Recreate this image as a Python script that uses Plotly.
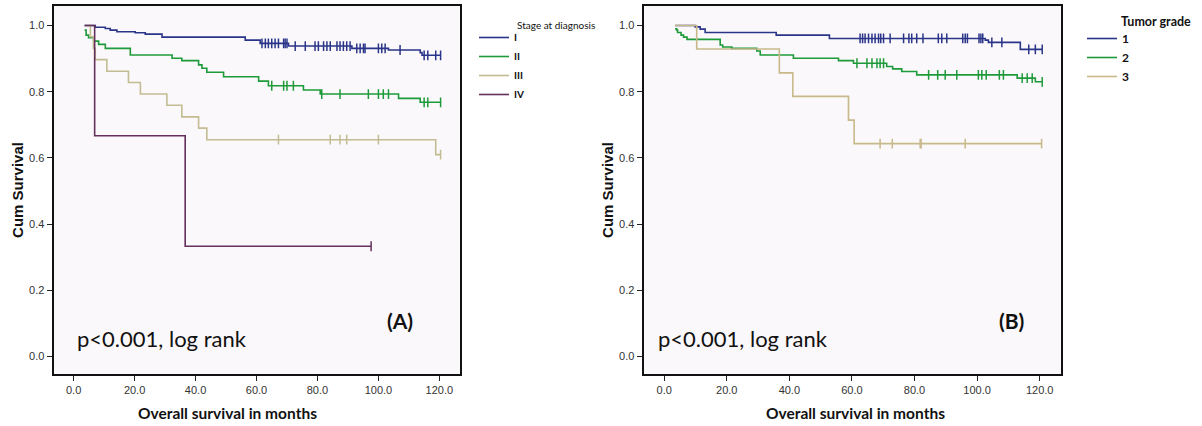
import numpy as np
import plotly.graph_objects as go

# ---------------- data ----------------
# Panel A : Stage at diagnosis
stage_names = ["I", "II", "III", "IV"]
stage1_t = [3.6, 7.1, 10.4, 12.0, 14.2, 20.2, 23.5, 29.0, 56.3, 61.2, 70.5, 91.3, 103.3, 113.7, 114.3]
stage1_s = [1.0, 0.995, 0.991, 0.986, 0.981, 0.978, 0.974, 0.965, 0.956, 0.946, 0.938, 0.931, 0.926, 0.918, 0.910]
stage1_c = [61.8, 62.9, 63.9, 65.0, 66.1, 67.2, 68.9, 69.4, 70.0, 72.7, 76.0, 79.2, 80.3, 82.0, 83.1,
            84.2, 86.4, 87.4, 88.5, 89.6, 90.7, 92.9, 94.0, 95.1, 95.6, 100.0, 101.1, 102.2, 107.1,
            115.0, 116.2, 118.8, 120.4]
stage2_t = [3.6, 4.1, 4.9, 6.6, 8.2, 10.4, 18.6, 32.3, 35.5, 41.0, 42.1, 43.7, 49.2, 60.7, 63.9, 75.4,
            80.9, 106.6, 113.7]
stage2_s = [0.986, 0.971, 0.963, 0.953, 0.943, 0.931, 0.911, 0.901, 0.894, 0.881, 0.871, 0.859, 0.845,
            0.832, 0.818, 0.805, 0.793, 0.780, 0.768]
stage2_c = [65.0, 68.9, 70.0, 72.1, 81.4, 87.4, 96.7, 100.0, 101.6, 103.3, 115.0, 116.2, 120.4]
stage3_t = [3.6, 5.5, 6.5, 7.1, 10.9, 18.0, 21.9, 30.6, 35.5, 41.0, 43.7, 118.8]
stage3_s = [1.0, 0.966, 0.931, 0.897, 0.862, 0.828, 0.793, 0.759, 0.724, 0.690, 0.655, 0.610]
stage3_c = [67.2, 84.2, 87.4, 89.6, 100.0, 120.4]
stage4_t = [3.6, 6.9, 36.6]
stage4_s = [1.0, 0.667, 0.333]
stage4_c = [97.6]

# Panel B : Tumor grade
grade_names = ["1", "2", "3"]
grade1_t = [3.5, 9.9, 11.5, 13.1, 35.8, 52.8, 102.6, 103.6, 113.8]
grade1_s = [1.0, 0.996, 0.989, 0.979, 0.971, 0.961, 0.956, 0.949, 0.928]
grade1_c = [62.6, 63.4, 64.2, 65.3, 66.4, 67.4, 68.5, 69.2, 70.1, 72.2, 76.5, 78.2, 79.1, 80.7, 82.7,
            87.6, 88.7, 90.3, 95.4, 96.2, 96.9, 100.6, 101.2, 101.8, 104.7, 107.9, 116.5, 118.6, 120.8]
grade2_t = [3.5, 4.0, 4.3, 5.4, 6.2, 7.3, 17.9, 18.7, 21.6, 29.6, 30.7, 41.3, 55.7, 60.5, 71.1, 73.0,
            75.9, 80.7, 112.8, 118.6]
grade2_s = [0.990, 0.986, 0.979, 0.971, 0.965, 0.958, 0.941, 0.935, 0.931, 0.923, 0.911, 0.901, 0.894,
            0.886, 0.876, 0.869, 0.861, 0.851, 0.841, 0.830]
grade2_c = [61.6, 64.8, 66.4, 68.0, 69.0, 70.1, 84.5, 87.4, 89.8, 93.5, 100.4, 101.5, 102.9, 107.1,
            108.4, 114.4, 116.0, 117.6, 120.8]
grade3_t = [3.5, 10.4, 36.8, 41.1, 58.9, 60.7]
grade3_s = [1.0, 0.929, 0.857, 0.786, 0.714, 0.643]
grade3_c = [69.0, 72.9, 81.8, 82.1, 96.2, 120.6]

x_ticks = [0, 20, 40, 60, 80, 100, 120]
x_ticklabels = ["0.0", "20.0", "40.0", "60.0", "80.0", "100.0", "120.0"]
y_ticks = [0.0, 0.2, 0.4, 0.6, 0.8, 1.0]
y_ticklabels = ["0.0", "0.2", "0.4", "0.6", "0.8", "1.0"]

# ---------------- styling ----------------
BLUE = "#2a3589"
GREEN = "#1f9a3a"
TAN = "#c3bc92"
PURPLE = "#66305e"
TAN_B = "#c8b98a"

W, H = 1202, 426


def px_x(p):
    return p / W


def px_y(p):
    return 1 - p / H


fig = go.Figure()


def add_curve(t, s, c, color, name, xa, ya, legend):
    t = np.asarray(t, float)
    s = np.asarray(s, float)
    c = np.asarray(c, float)
    end = max(t.max(), c.max() if c.size else t.max())
    xs = np.append(t, end)
    ys = np.append(s, s[-1])
    fig.add_trace(go.Scatter(
        x=xs, y=ys, mode="lines", line=dict(color=color, width=1.6, shape="hv"),
        name=name, xaxis=xa, yaxis=ya, legend=legend, hoverinfo="skip"))
    if c.size:
        idx = np.searchsorted(t, c, side="right") - 1
        cy = s[np.clip(idx, 0, len(s) - 1)]
        fig.add_trace(go.Scatter(
            x=c, y=cy, mode="markers", showlegend=False, xaxis=xa, yaxis=ya,
            marker=dict(symbol="line-ns", size=7, line=dict(color=color, width=1.5)),
            hoverinfo="skip"))


add_curve(stage1_t, stage1_s, stage1_c, BLUE, stage_names[0], "x", "y", "legend")
add_curve(stage2_t, stage2_s, stage2_c, GREEN, stage_names[1], "x", "y", "legend")
add_curve(stage3_t, stage3_s, stage3_c, TAN, stage_names[2], "x", "y", "legend")
add_curve(stage4_t, stage4_s, stage4_c, PURPLE, stage_names[3], "x", "y", "legend")

add_curve(grade1_t, grade1_s, grade1_c, BLUE, grade_names[0], "x2", "y2", "legend2")
add_curve(grade2_t, grade2_s, grade2_c, GREEN, grade_names[1], "x2", "y2", "legend2")
add_curve(grade3_t, grade3_s, grade3_c, TAN_B, grade_names[2], "x2", "y2", "legend2")

ydom = [px_y(374), px_y(6)]
xdomA = [px_x(53.5), px_x(459.5)]
xdomB = [px_x(643.5), px_x(1061)]

axis_common = dict(
    showline=True, linecolor="#111", linewidth=1.8, mirror=True, ticks="outside",
    ticklen=5, tickwidth=1.3, tickcolor="#222", showgrid=False, zeroline=False,
    tickfont=dict(family="Arial, Liberation Sans", size=11, color="#333"),
)
ytitle_font = dict(family="Arial, Liberation Sans", size=15, color="#111")

fig.update_layout(
    width=W, height=H, margin=dict(l=0, r=0, t=0, b=0),
    paper_bgcolor="#ffffff", plot_bgcolor="#faf8fa",
    xaxis=dict(domain=xdomA, range=[-6.6, 126.6], tickvals=x_ticks, ticktext=x_ticklabels,
               anchor="y", **axis_common),
    yaxis=dict(domain=ydom, range=[-0.053, 1.059], tickvals=y_ticks, ticktext=y_ticklabels,
               anchor="x", title=dict(text="<b>Cum Survival</b>", standoff=2, font=ytitle_font),
               **axis_common),
    xaxis2=dict(domain=xdomB, range=[-6.6, 126.8], tickvals=x_ticks, ticktext=x_ticklabels,
                anchor="y2", **axis_common),
    yaxis2=dict(domain=ydom, range=[-0.053, 1.059], tickvals=y_ticks, ticktext=y_ticklabels,
                anchor="x2", title=dict(text="<b>Cum Survival</b>", standoff=2, font=ytitle_font),
                **axis_common),
    legend=dict(x=px_x(474), y=px_y(23), xanchor="left", yanchor="top",
                bgcolor="rgba(0,0,0,0)", itemwidth=30, tracegroupgap=0,
                font=dict(family="Lato", size=10, color="#111", weight="bold")),
    legend2=dict(x=px_x(1082), y=px_y(24), xanchor="left", yanchor="top",
                 bgcolor="rgba(0,0,0,0)", itemwidth=30, tracegroupgap=0,
                 font=dict(family="Lato", size=12, color="#111", weight="bold")),
    showlegend=True,
)

# legend titles
fig.add_annotation(text="Stage at diagnosis", xref="paper", yref="paper", x=px_x(515), y=px_y(25),
                   xanchor="left", yanchor="middle", showarrow=False,
                   font=dict(family="Lato", size=10, color="#111"))
fig.add_annotation(text="<b>Tumor grade</b>", xref="paper", yref="paper", x=px_x(1119), y=px_y(22),
                   xanchor="left", yanchor="middle", showarrow=False,
                   font=dict(family="Lato", size=12.5, color="#111"))

ann_font_title = dict(family="Lato", size=15.5, color="#111")
fig.add_annotation(text="<b>Overall survival in months</b>", xref="paper", yref="paper",
                   x=px_x(227), y=px_y(413), xanchor="center", yanchor="middle",
                   showarrow=False, font=ann_font_title)
fig.add_annotation(text="<b>Overall survival in months</b>", xref="paper", yref="paper",
                   x=px_x(855), y=px_y(413), xanchor="center", yanchor="middle",
                   showarrow=False, font=ann_font_title)

p_font = dict(family="Lato", size=22, color="#111")
fig.add_annotation(text="p<0.001, log rank", xref="paper", yref="paper", x=px_x(75), y=px_y(338),
                   xanchor="left", yanchor="middle", showarrow=False, font=p_font)
fig.add_annotation(text="p<0.001, log rank", xref="paper", yref="paper", x=px_x(656), y=px_y(338),
                   xanchor="left", yanchor="middle", showarrow=False, font=p_font)
lab_font = dict(family="Lato", size=21, color="#111")
fig.add_annotation(text="<b>(A)</b>", xref="paper", yref="paper", x=px_x(400), y=px_y(320),
                   xanchor="center", yanchor="middle", showarrow=False, font=lab_font)
fig.add_annotation(text="<b>(B)</b>", xref="paper", yref="paper", x=px_x(1011), y=px_y(320),
                   xanchor="center", yanchor="middle", showarrow=False, font=lab_font)

fig.write_html("out.html", config={"displayModeBar": False},
               post_script="document.body.style.margin='0px';document.body.style.overflow='hidden';")
